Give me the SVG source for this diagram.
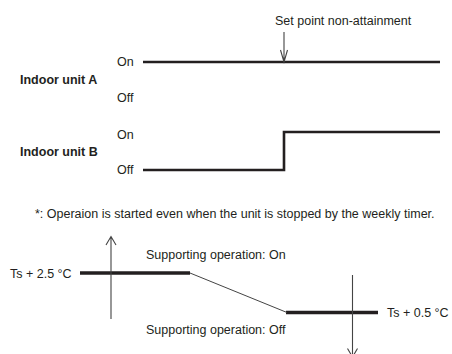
<svg xmlns="http://www.w3.org/2000/svg" width="452" height="354" viewBox="0 0 452 354">
<style>
text{font-family:"Liberation Sans",Arial,sans-serif;font-size:12.5px;fill:#231f20}
.b{font-weight:bold}
.thick{stroke:#231f20;stroke-width:2.6;fill:none}
.thick2{stroke:#231f20;stroke-width:3.6;fill:none}
.thin{stroke:#444;stroke-width:1;fill:none}
.arr{stroke:#444;stroke-width:1.1;fill:none}
</style>
<rect width="452" height="354" fill="#fff"/>
<g id="unitA">
<text x="117" y="66">On</text>
<text class="b" x="20" y="84">Indoor unit A</text>
<text x="117" y="101.5">Off</text>
<path class="thick" d="M143 62H440"/>
</g>
<g id="unitB">
<text x="117" y="138.5">On</text>
<text class="b" x="20" y="156">Indoor unit B</text>
<text x="117" y="173.5">Off</text>
<path class="thick" d="M143 170H284V132H440"/>
</g>
<g id="setpoint">
<text x="275" y="24.5">Set point non-attainment</text>
</g>
<g id="note">
<text x="35" y="217.5">*: Operaion is started even when the unit is stopped by the weekly timer.</text>
</g>
<g id="levels">
<text x="10" y="277.5">Ts + 2.5 °C</text>
<text x="387" y="317">Ts + 0.5 °C</text>
<text x="146" y="258.5">Supporting operation: On</text>
<text x="146" y="334">Supporting operation: Off</text>
<path class="thick2" d="M80 273H190"/>
<path class="thick2" d="M286 312.5H378"/>
</g>
<g id="connectors">
<path class="arr" d="M284 32V62M280.5 50L284 62L287.5 50"/>
<path class="arr" d="M111 319V236.5M106 245L111 236.5L116 245"/>
<path class="arr" d="M352.5 275V357M347.5 348.5L352.5 357L357.5 348.5"/>
<path class="thin" d="M190 273L287 312.5"/>
</g>
</svg>
